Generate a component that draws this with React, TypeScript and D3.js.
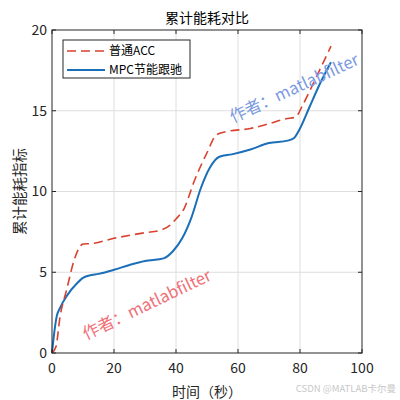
import { useEffect, useRef } from 'react';
import * as d3 from 'd3';

// time (s) and cumulative energy index
const accTime = [0, 1.3, 2.6, 4.7, 7.4, 10, 13, 20, 30, 35, 38, 40, 42.5, 46, 50, 53, 56, 64, 70, 75.5, 78.5, 81, 84.3, 90];
const accValue = [0, 0.4, 2.25, 3.9, 5.9, 6.75, 6.78, 7.1, 7.45, 7.6, 7.9, 8.3, 8.9, 10.7, 12.4, 13.5, 13.7, 13.9, 14.2, 14.5, 14.6, 15.4, 16.7, 19.0];

const mpcTime = [0, 0.5, 1.5, 2.6, 5, 8, 10, 12, 15, 20, 25, 30, 36, 39, 42, 45, 48, 51, 54, 58, 64, 70, 76, 78, 80, 83, 86.5, 90];
const mpcValue = [0, 0.9, 2.25, 2.8, 3.6, 4.3, 4.65, 4.8, 4.9, 5.15, 5.45, 5.7, 5.86, 6.3, 7.1, 8.4, 10.2, 11.5, 12.15, 12.3, 12.6, 13.0, 13.15, 13.3, 13.9, 15.2, 16.7, 18.0];

const xTicks = [0, 20, 40, 60, 80, 100];
const yTicks = [0, 5, 10, 15, 20];
const seriesNames = ['普通ACC', 'MPC节能跟驰'];

const FONT = '"Noto Sans CJK SC", "Noto Sans", sans-serif';

export default function App() {
  const svgRef = useRef<SVGSVGElement>(null);

  useEffect(() => {
    if (!svgRef.current) return;
    const svg = d3.select(svgRef.current);
    svg.selectAll('*').remove();

    const left = 52, right = 362, top = 30, bottom = 353;
    const x = d3.scaleLinear().domain([0, 100]).range([left, right]);
    const y = d3.scaleLinear().domain([0, 20]).range([bottom, top]);

    svg.append('rect').attr('width', 400).attr('height', 400).attr('fill', 'white');

    // grid
    const grid = svg.append('g').attr('stroke', '#dedede').attr('stroke-width', 1);
    xTicks.slice(1, -1).forEach((t) => {
      grid.append('line').attr('x1', x(t)).attr('x2', x(t)).attr('y1', top).attr('y2', bottom);
    });
    yTicks.slice(1, -1).forEach((t) => {
      grid.append('line').attr('x1', left).attr('x2', right).attr('y1', y(t)).attr('y2', y(t));
    });

    // lines
    const line = d3
      .line<[number, number]>()
      .x((d) => x(d[0]))
      .y((d) => y(d[1]))
      .curve(d3.curveMonotoneX);

    const acc = accTime.map((t, i) => [t, accValue[i]] as [number, number]);
    const mpc = mpcTime.map((t, i) => [t, mpcValue[i]] as [number, number]);

    svg
      .append('path')
      .attr('d', line(mpc))
      .attr('fill', 'none')
      .attr('stroke', '#1a6fb8')
      .attr('stroke-width', 2);

    svg
      .append('path')
      .attr('d', line(acc))
      .attr('fill', 'none')
      .attr('stroke', '#d9412f')
      .attr('stroke-width', 1.6)
      .attr('stroke-dasharray', '9,5');

    // axes box with inward ticks
    const axis = svg.append('g').attr('stroke', '#262626').attr('stroke-width', 1);
    axis
      .append('rect')
      .attr('x', left)
      .attr('y', top)
      .attr('width', right - left)
      .attr('height', bottom - top)
      .attr('fill', 'none');
    xTicks.forEach((t) => {
      axis.append('line').attr('x1', x(t)).attr('x2', x(t)).attr('y1', bottom).attr('y2', bottom - 4);
      axis.append('line').attr('x1', x(t)).attr('x2', x(t)).attr('y1', top).attr('y2', top + 4);
    });
    yTicks.forEach((t) => {
      axis.append('line').attr('x1', left).attr('x2', left + 4).attr('y1', y(t)).attr('y2', y(t));
      axis.append('line').attr('x1', right).attr('x2', right - 4).attr('y1', y(t)).attr('y2', y(t));
    });

    // tick labels
    svg
      .append('g')
      .selectAll('text')
      .data(xTicks)
      .enter()
      .append('text')
      .attr('x', (d) => x(d))
      .attr('y', bottom + 20)
      .attr('text-anchor', 'middle')
      .style('font-family', FONT)
      .style('font-size', '14px')
      .attr('fill', '#262626')
      .text((d) => d);

    svg
      .append('g')
      .selectAll('text')
      .data(yTicks)
      .enter()
      .append('text')
      .attr('x', left - 5)
      .attr('y', (d) => y(d))
      .attr('dy', '0.35em')
      .attr('text-anchor', 'end')
      .style('font-family', FONT)
      .style('font-size', '14px')
      .attr('fill', '#262626')
      .text((d) => d);

    // title and axis labels
    svg
      .append('text')
      .attr('x', (left + right) / 2)
      .attr('y', 23)
      .attr('text-anchor', 'middle')
      .style('font-family', FONT)
      .style('font-size', '14px')
      .attr('fill', '#000')
      .text('累计能耗对比');

    svg
      .append('text')
      .attr('x', (left + right) / 2)
      .attr('y', 397)
      .attr('text-anchor', 'middle')
      .style('font-family', FONT)
      .style('font-size', '14px')
      .attr('fill', '#262626')
      .text('时间（秒）');

    svg
      .append('text')
      .attr('transform', `translate(25,${(top + bottom) / 2}) rotate(-90)`)
      .attr('text-anchor', 'middle')
      .style('font-family', FONT)
      .style('font-size', '14.5px')
      .attr('fill', '#262626')
      .text('累计能耗指标');

    // legend
    const lg = svg.append('g');
    lg.append('rect')
      .attr('x', 63)
      .attr('y', 40)
      .attr('width', 127)
      .attr('height', 38)
      .attr('fill', 'white')
      .attr('stroke', '#262626')
      .attr('stroke-width', 1);
    const legendStyles = [
      { color: '#d9412f', dash: '9,5', width: 1.6 },
      { color: '#1a6fb8', dash: null, width: 2 }
    ];
    seriesNames.forEach((name, i) => {
      const ly = 51 + i * 19;
      lg.append('line')
        .attr('x1', 67)
        .attr('x2', 105)
        .attr('y1', ly)
        .attr('y2', ly)
        .attr('stroke', legendStyles[i].color)
        .attr('stroke-width', legendStyles[i].width)
        .attr('stroke-dasharray', legendStyles[i].dash);
      lg.append('text')
        .attr('x', 109)
        .attr('y', ly)
        .attr('dy', '0.35em')
        .style('font-family', FONT)
        .style('font-size', '12px')
        .attr('fill', '#000')
        .text(name);
    });

    // watermarks
    svg
      .append('text')
      .attr('transform', 'translate(233,123) rotate(-25)')
      .style('font-family', FONT)
      .style('font-size', '16.5px')
      .attr('fill', '#7b9ae0')
      .text('作者：matlabfilter');

    svg
      .append('text')
      .attr('transform', 'translate(86,340) rotate(-25.5)')
      .style('font-family', FONT)
      .style('font-size', '16.5px')
      .attr('fill', '#f07078')
      .text('作者：matlabfilter');

    svg
      .append('text')
      .attr('x', 396)
      .attr('y', 392)
      .attr('text-anchor', 'end')
      .style('font-family', FONT)
      .style('font-size', '9.5px')
      .attr('fill', '#c8c8c8')
      .text('CSDN @MATLAB卡尔曼');
  }, []);

  return (
    <svg
      ref={svgRef}
      width={400}
      height={400}
      style={{ position: 'absolute', left: 0, top: 0 }}
    ></svg>
  );
}
